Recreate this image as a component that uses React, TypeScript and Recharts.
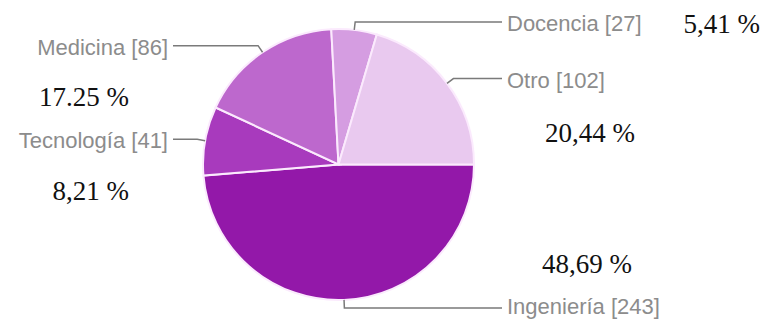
import React from 'react';
import { PieChart, Pie, Cell } from 'recharts';

const categories = ['Ingeniería', 'Tecnología', 'Medicina', 'Docencia', 'Otro'];
const counts = [243, 41, 86, 27, 102];
const pctLabels = ['48,69 %', '8,21 %', '17.25 %', '5,41 %', '20,44 %'];
const colors = ['#9318a9', '#a83abd', '#bd68cd', '#d59de1', '#e9c9ef'];

const data = categories.map((name, i) => ({ name, value: counts[i], pct: pctLabels[i] }));

const RADIAN = Math.PI / 180;
const LINE_COLOR = '#7a7a7a';
const LABEL_COLOR = '#8c8c8c';
const CHART_H = 320;

/* where the hand-placed percentage sits, relative to the label anchor */
const pctPlacement: Record<string, { dx: number; dy: number; inline?: boolean }> = {
    'Ingeniería': { dx: 35, dy: -41 },
    'Tecnología': { dx: -39, dy: 52 },
    'Medicina': { dx: -39, dy: 51 },
    'Docencia': { dx: 36, dy: 2, inline: true },
    'Otro': { dx: 38, dy: 54 },
};

const renderLabel = (props: any) => {
    const { cx, cy, midAngle, outerRadius, payload, index } = props;
    const cos = Math.cos(-midAngle * RADIAN);
    const sin = Math.sin(-midAngle * RADIAN);
    const sx = cx + outerRadius * cos;
    const sy = cy + outerRadius * sin;
    const bx = cx + (outerRadius + 8) * cos;
    const by = cy + (outerRadius + 8) * sin;
    const right = cos >= 0;
    const ex = right ? cx + outerRadius + 28 : cx - outerRadius - 30;
    const tx = right ? ex + 5 : ex - 5;
    // keep the descenders inside the picture
    const ty = Math.min(by + 9, CHART_H - 6);
    const text = `${payload.name} [${payload.value}]`;
    const place = pctPlacement[payload.name];
    // approx width of the grey label, only used for the inline percentage
    const labelW = text.length * 10.8;
    const px = place.inline ? tx + labelW + place.dx : tx + place.dx;

    return (
        <g key={`lbl-${index}`}>
            <polyline points={`${sx},${sy} ${bx},${by} ${ex},${by}`}
                fill="none" stroke={LINE_COLOR} strokeWidth={1.5} />
            <text x={tx} y={ty} textAnchor={right ? 'start' : 'end'}
                fill={LABEL_COLOR} fontSize={22} fontFamily="'Liberation Sans', Arial, sans-serif">
                {text}
            </text>
            <text x={px} y={ty + place.dy} textAnchor={right ? 'start' : 'end'}
                fill="#111" fontSize={27} fontFamily="'Liberation Serif', 'Times New Roman', serif">
                {payload.pct}
            </text>
        </g>
    );
};

export default function App() {
    return (
        <div style={{ position: 'absolute', left: 0, top: 0, width: 763, height: CHART_H, background: '#fff' }}>
            <PieChart width={763} height={CHART_H} margin={{ top: 0, right: 0, bottom: 0, left: 0 }}>
                <Pie data={data} dataKey="value" nameKey="name"
                    cx={338.5} cy={164.5} outerRadius={135.5}
                    startAngle={0} endAngle={-360}
                    stroke="#fbeafd" strokeWidth={2}
                    label={renderLabel} labelLine={false}
                    isAnimationActive={false}>
                    {data.map((d, i) => (
                        <Cell key={d.name} fill={colors[i]} />
                    ))}
                </Pie>
            </PieChart>
        </div>
    );
}
